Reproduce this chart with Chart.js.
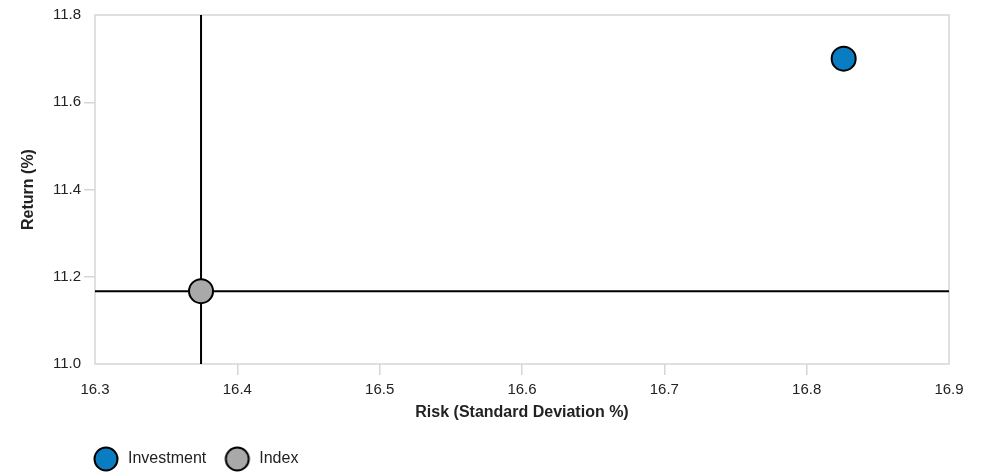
<!DOCTYPE html>
<html>
<head>
<meta charset="utf-8">
<script src="https://cdn.jsdelivr.net/npm/chart.js@4.4.1/dist/chart.umd.min.js"></script>
<style>
  html, body { margin: 0; padding: 0; background: #fff; }
  #wrap { width: 987px; height: 473px; }
</style>
</head>
<body>
<div id="wrap"><canvas id="riskChart"></canvas></div>
<script>
// ── Datos ─────────────
const seriesNames = ['Investment', 'Index'];
const riskValues = [16.826, 16.3745];
const returnValues = [11.70, 11.167];
const seriesColors = ['#0a7dc2', '#a9a9a9'];
const xTicks = [16.3, 16.4, 16.5, 16.6, 16.7, 16.8, 16.9];
const yTicks = [11.0, 11.2, 11.4, 11.6, 11.8];

(function () {
    const ctx = document.getElementById('riskChart');
    const xMin = xTicks[0], xMax = xTicks[xTicks.length - 1];
    const yMin = yTicks[0], yMax = yTicks[yTicks.length - 1];
    const idx = 1; // la cruz pasa por el punto Index

    // marcadores de la leyenda (círculo con borde negro)
    const legendMarker = (color) => {
        const c = document.createElement('canvas');
        c.width = 28; c.height = 28;
        const g = c.getContext('2d');
        g.beginPath();
        g.arc(14, 14, 11.5, 0, Math.PI * 2);
        g.fillStyle = color; g.fill();
        g.lineWidth = 2; g.strokeStyle = '#000'; g.stroke();
        return c;
    };
    const markers = seriesColors.map(legendMarker);

    // recuadro gris alrededor del área
    const frame = {
        id: 'frame',
        beforeDatasetsDraw(chart) {
            const a = chart.chartArea, c = chart.ctx;
            c.save();
            c.strokeStyle = '#d6d6d6';
            c.lineWidth = 1.5;
            c.strokeRect(a.left, a.top, a.right - a.left, a.bottom - a.top);
            c.restore();
        }
    };

    // mueve la leyenda bajo el área del gráfico
    const legendShift = {
        id: 'legendShift',
        afterLayout(chart) {
            const lg = chart.legend;
            const dx = 75 - lg.left;
            lg.left += dx; lg.right += dx;
            lg.top += 8; lg.bottom += 8;
        }
    };

    const tickColor = (context) => {
        const n = context.scale.ticks.length;
        return (context.index === 0 || context.index === n - 1) ? 'rgba(0,0,0,0)' : '#d6d6d6';
    };

    const font = (size, weight) => ({ family: 'Liberation Sans', size: size, weight: weight || 'normal' });

    new Chart(ctx, {
        type: 'scatter',
        data: {
            datasets: [
                {
                    label: 'crossV',
                    type: 'line',
                    data: [{ x: riskValues[idx], y: yMin }, { x: riskValues[idx], y: yMax }],
                    borderColor: '#000', borderWidth: 2, pointRadius: 0, order: 3
                },
                {
                    label: 'crossH',
                    type: 'line',
                    data: [{ x: xMin, y: returnValues[idx] }, { x: xMax, y: returnValues[idx] }],
                    borderColor: '#000', borderWidth: 2, pointRadius: 0, order: 3
                },
                ...seriesNames.map((name, i) => ({
                    label: name,
                    data: [{ x: riskValues[i], y: returnValues[i] }],
                    backgroundColor: seriesColors[i],
                    borderColor: '#000',
                    borderWidth: 2,
                    pointRadius: 12,
                    pointHoverRadius: 12,
                    order: 1
                }))
            ]
        },
        options: {
            responsive: true,
            maintainAspectRatio: false,
            animation: false,
            layout: { padding: { left: 15, right: 38, top: 15, bottom: 4 } },
            scales: {
                x: {
                    type: 'linear',
                    min: xMin, max: xMax,
                    afterBuildTicks: (s) => { s.ticks = xTicks.map(v => ({ value: v })); },
                    afterFit: (s) => { s.height = 62; },
                    grid: { drawOnChartArea: false, drawTicks: true, tickLength: 11, color: tickColor, lineWidth: 1.5 },
                    border: { display: false },
                    ticks: { color: '#222', font: font(15), padding: 6, callback: v => v.toFixed(1) },
                    title: { display: true, text: 'Risk (Standard Deviation %)', color: '#222', font: font(16, 'bold'), padding: { top: 2 } }
                },
                y: {
                    type: 'linear',
                    min: yMin, max: yMax,
                    afterBuildTicks: (s) => { s.ticks = yTicks.map(v => ({ value: v })); },
                    afterFit: (s) => { s.width = 80; },
                    grid: { drawOnChartArea: false, drawTicks: true, tickLength: 11, color: tickColor, lineWidth: 1.5 },
                    border: { display: false },
                    ticks: { color: '#222', font: font(15), padding: 3, callback: v => v.toFixed(1) },
                    title: { display: true, text: 'Return (%)', color: '#222', font: font(16, 'bold'), padding: { bottom: 10 } }
                }
            },
            plugins: {
                legend: {
                    position: 'bottom',
                    align: 'start',
                    maxHeight: 47,
                    labels: {
                        usePointStyle: true,
                        pointStyleWidth: 28,
                        boxHeight: 16,
                        color: '#222',
                        font: font(16),
                        padding: 17,
                        generateLabels: (chart) => Chart.defaults.plugins.legend.labels.generateLabels(chart)
                            .filter(item => seriesNames.includes(item.text))
                            .map(item => Object.assign(item, { pointStyle: markers[seriesNames.indexOf(item.text)] }))
                    }
                },
                tooltip: { filter: (item) => seriesNames.includes(item.dataset.label) }
            }
        },
        plugins: [frame, legendShift]
    });
})();
</script>
</body>
</html>
